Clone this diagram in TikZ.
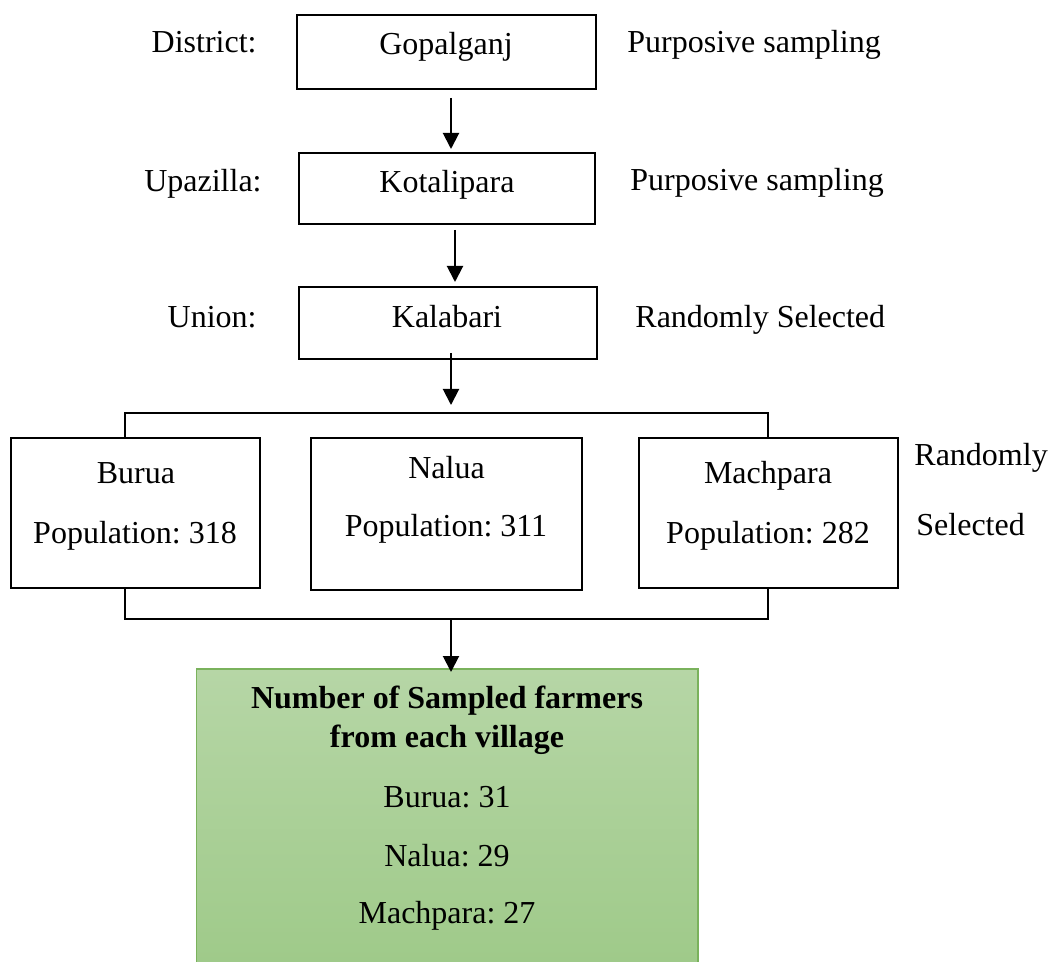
\documentclass[tikz,border=0pt]{standalone}
\usepackage{fontspec}
\setmainfont{Liberation Serif}
\usetikzlibrary{arrows.meta}
\definecolor{leaftop}{RGB}{182,214,166}
\definecolor{leafbottom}{RGB}{157,201,135}
\definecolor{leafedge}{RGB}{122,178,92}
\frenchspacing
\begin{document}
\begin{tikzpicture}[x=0.5pt, y=-0.5pt,
		every node/.style = {inner sep=0pt, font=\fontsize{16}{19.2}\selectfont},
		stagebox/.style = {draw, line width=1pt, shape=rectangle},
		samplebox/.style = {draw=leafedge, line width=0.75pt, top color=leaftop, bottom color=leafbottom},
		link/.style = {line width=1pt, -{Triangle[width=8pt,length=8pt]}}]
	\useasboundingbox (0,0) rectangle (1049,962);
	% boxes
	\node[stagebox, minimum width=149.5pt, minimum height=37pt] (gop) at (446.5,52) {};
	\node[stagebox, minimum width=148pt, minimum height=35.5pt] (kot) at (447,188.5) {};
	\node[stagebox, minimum width=149pt, minimum height=36pt] (kal) at (448,323) {};
	\node[stagebox, minimum width=124.5pt, minimum height=75pt] (bur) at (135.5,513) {};
	\node[stagebox, minimum width=135.5pt, minimum height=76pt] (nal) at (446.5,514) {};
	\node[stagebox, minimum width=129.5pt, minimum height=75pt] (mac) at (768.5,513) {};
	\node[samplebox, minimum width=250.75pt, minimum height=160pt, anchor=north] (sam) at (447,668) {};
	% names in the boxes
	\node[anchor=base] (gop-t) at (446,55) {Gopalganj};
	\node[anchor=base] (kot-t) at (447,193) {Kotalipara};
	\node[anchor=base] (kal-t) at (447,328) {Kalabari};
	\node[anchor=base] (bur-t) at (136,483) {Burua};
	\node[anchor=base] (bur-p) at (135,543) {Population: 318};
	\node[anchor=base] (nal-t) at (446.5,478) {Nalua};
	\node[anchor=base] (nal-p) at (446,536) {Population: 311};
	\node[anchor=base] (mac-t) at (768,483) {Machpara};
	\node[anchor=base] (mac-p) at (768,543) {Population: 282};
	\node[anchor=north, align=center] (sam-t) at (447,686) {\textbf{Number of Sampled farmers}\\
		\textbf{from each village}\\[11pt]
		Burua: 31\\[10pt]
		Nalua: 29\\[9.5pt]
		Machpara: 27};
	% side labels
	\node[anchor=base east] (district) at (257,53) {District:};
	\node[anchor=base east] (upazilla) at (262,192) {Upazilla:};
	\node[anchor=base east] (union) at (257,328) {Union:};
	\node[anchor=base west] (purp-1) at (627,53) {Purposive sampling};
	\node[anchor=base west] (purp-2) at (630,191) {Purposive sampling};
	\node[anchor=base west] (rand-1) at (635,328) {Randomly Selected};
	\node[anchor=base west] (rand-2) at (914,466) {Randomly};
	\node[anchor=base west] (rand-3) at (916,535) {Selected};
	% brackets round the villages
	\coordinate (top-l) at (125,413);
	\coordinate (top-r) at (768,413);
	\coordinate (bot-l) at (125,619);
	\coordinate (bot-r) at (768,619);
	\coordinate (bot-m) at (451,619);
	\draw[line width=1pt] (bur.north -| top-l) -- (top-l) -- (top-r) -- (mac.north -| top-r);
	\draw[line width=1pt] (bur.south -| bot-l) -- (bot-l) -- (bot-r) -- (mac.south -| bot-r);
	% arrows
	\draw[link, shorten <=4pt, shorten >=1.5pt] ([xshift=2.25pt]gop.south) -- ([xshift=2.25pt]gop.south |- kot.north);
	\draw[link, shorten <=2.5pt, shorten >=2pt] ([xshift=4pt]kot.south) -- ([xshift=4pt]kot.south |- kal.north);
	\draw[link, shorten <=-3.5pt, shorten >=4pt] ([xshift=1.5pt]kal.south) -- ([xshift=1.5pt]kal.south |- top-l);
	\draw[link, shorten >=-2pt] (bot-m) -- (bot-m |- sam.north);
\end{tikzpicture}
\end{document}
